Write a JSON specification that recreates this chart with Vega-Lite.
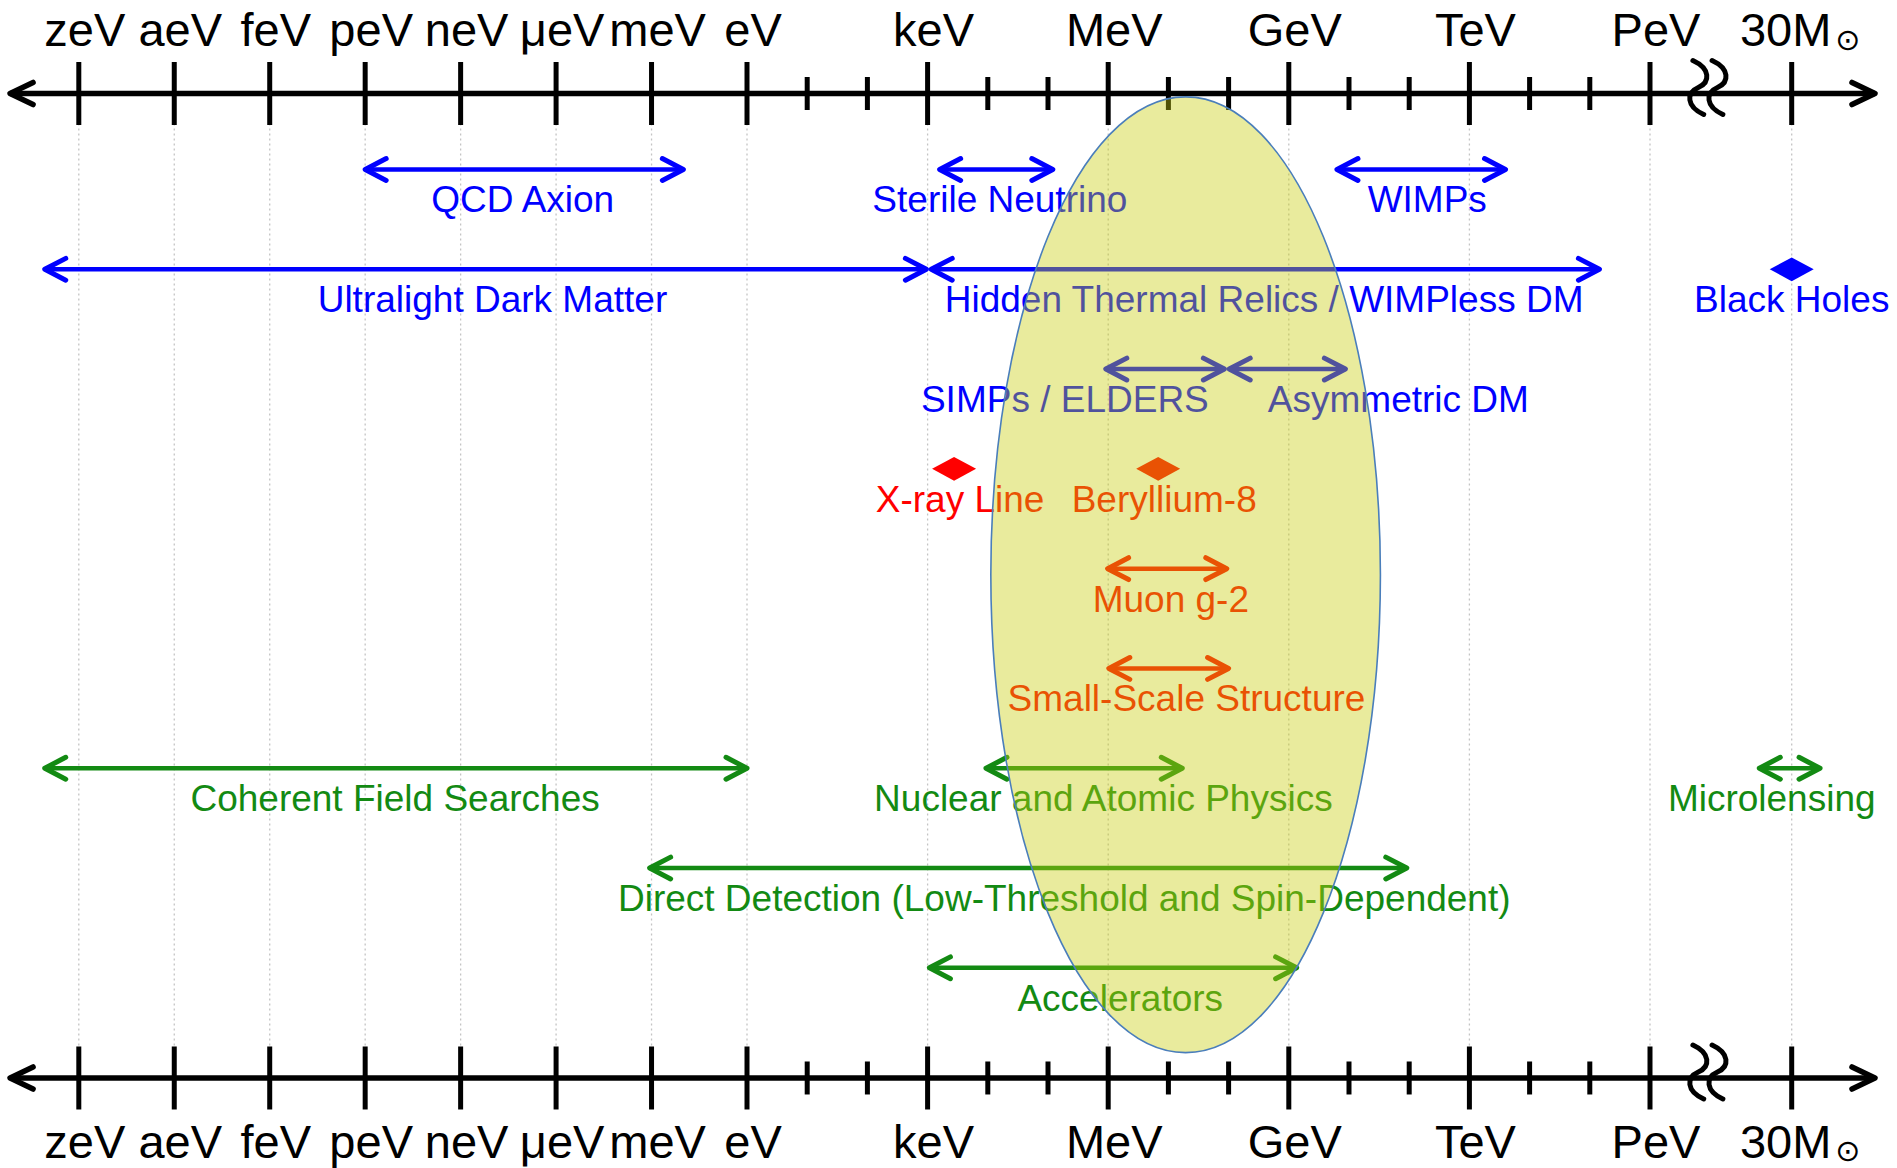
{
  "$schema": "https://vega.github.io/schema/vega-lite/v6.json",
  "width": 1897,
  "height": 1168,
  "autosize": {"type": "none"},
  "padding": 0,
  "background": "white",
  "config": {"view": {"stroke": null}},
  "datasets": {
    "ticks": [
      {"x": -21, "kind": "major", "label": "zeV"},
      {"x": -18, "kind": "major", "label": "aeV"},
      {"x": -15, "kind": "major", "label": "feV"},
      {"x": -12, "kind": "major", "label": "peV"},
      {"x": -9, "kind": "major", "label": "neV"},
      {"x": -6, "kind": "major", "label": "μeV"},
      {"x": -3, "kind": "major", "label": "meV"},
      {"x": 0, "kind": "major", "label": "eV"},
      {"x": 1, "kind": "minor", "label": ""},
      {"x": 2, "kind": "minor", "label": ""},
      {"x": 3, "kind": "major", "label": "keV"},
      {"x": 4, "kind": "minor", "label": ""},
      {"x": 5, "kind": "minor", "label": ""},
      {"x": 6, "kind": "major", "label": "MeV"},
      {"x": 7, "kind": "minor", "label": ""},
      {"x": 8, "kind": "minor", "label": ""},
      {"x": 9, "kind": "major", "label": "GeV"},
      {"x": 10, "kind": "minor", "label": ""},
      {"x": 11, "kind": "minor", "label": ""},
      {"x": 12, "kind": "major", "label": "TeV"},
      {"x": 13, "kind": "minor", "label": ""},
      {"x": 14, "kind": "minor", "label": ""},
      {"x": 15, "kind": "major", "label": "PeV"},
      {"x": 67.5, "kind": "major", "label": "30M", "sub": "⊙"}
    ],
    "axisLines": [
      {"row": 0.2385, "x": -23.16, "x2": 98.36},
      {"row": 10.104, "x": -23.16, "x2": 98.36}
    ],
    "breaks": [
      {"row": 0.2385, "x": 32.9},
      {"row": 0.2385, "x": 40.0},
      {"row": 10.104, "x": 32.9},
      {"row": 10.104, "x": 40.0}
    ],
    "items": [
      {"label": "QCD Axion", "group": "theory", "type": "range", "row": 1, "x": -12, "x2": -2, "lx": -7.05},
      {"label": "Sterile Neutrino", "group": "theory", "type": "range", "row": 1, "x": 3.2, "x2": 5.08, "lx": 4.2},
      {"label": "WIMPs", "group": "theory", "type": "range", "row": 1, "x": 9.8, "x2": 12.6, "lx": 11.3},
      {"label": "Ultralight Dark Matter", "group": "theory", "type": "range", "row": 2, "x": -22.07, "x2": 2.98, "lx": -8},
      {"label": "Hidden Thermal Relics / WIMPless DM", "group": "theory", "type": "range", "row": 2, "x": 3.06, "x2": 14.16, "lx": 8.59},
      {"label": "Black Holes", "group": "theory", "type": "point", "row": 2, "x": 67.5, "lx": 67.5},
      {"label": "SIMPs / ELDERS", "group": "theory", "type": "range", "row": 3, "x": 5.96, "x2": 7.93, "lx": 5.28},
      {"label": "Asymmetric DM", "group": "theory", "type": "range", "row": 3, "x": 8.01, "x2": 9.94, "lx": 10.82},
      {"label": "X-ray Line", "group": "hint", "type": "point", "row": 4, "x": 3.44, "lx": 3.54},
      {"label": "Beryllium-8", "group": "hint", "type": "point", "row": 4, "x": 6.83, "lx": 6.93},
      {"label": "Muon g-2", "group": "hint", "type": "range", "row": 5, "x": 5.99, "x2": 7.97, "lx": 7.04},
      {"label": "Small-Scale Structure", "group": "hint", "type": "range", "row": 6, "x": 6.01, "x2": 8.0, "lx": 7.3},
      {"label": "Coherent Field Searches", "group": "probe", "type": "range", "row": 7, "x": -22.07, "x2": 0, "lx": -11.06},
      {"label": "Nuclear and Atomic Physics", "group": "probe", "type": "range", "row": 7, "x": 3.97, "x2": 7.23, "lx": 5.92},
      {"label": "Microlensing", "group": "probe", "type": "range", "row": 7, "x": 55.5, "x2": 78, "lx": 60.1},
      {"label": "Direct Detection (Low-Threshold and Spin-Dependent)", "group": "probe", "type": "range", "row": 8, "x": -3.06, "x2": 10.96, "lx": 5.27},
      {"label": "Accelerators", "group": "probe", "type": "range", "row": 9, "x": 3.03, "x2": 9.13, "lx": 6.2}
    ],
    "ellipse": [{"x": 7.286, "row": 5.061}]
  },
  "layer": [
    {
      "data": {"name": "ticks"},
      "transform": [{"filter": "datum.kind == 'major'"}],
      "mark": {"type": "rule", "color": "#c4c4c4", "strokeWidth": 1.3, "strokeDash": [2, 3]},
      "encoding": {
        "x": {"field": "x", "type": "quantitative", "scale": {"domain": [-21, 0, 15, 67.5], "range": [78.8, 747, 1650, 1791.7]}, "axis": null},
        "y": {"datum": 0.2385, "type": "quantitative", "scale": {"domain": [-0.6985, 11.006], "range": [0, 1168]}, "axis": null},
        "y2": {"datum": 10.104}
      }
    },
    {
      "data": {"name": "axisLines"},
      "mark": {"type": "rule", "color": "black", "strokeWidth": 5.5},
      "encoding": {
        "x": {"field": "x", "type": "quantitative", "scale": {"domain": [-21, 0, 15, 67.5], "range": [78.8, 747, 1650, 1791.7]}, "axis": null},
        "x2": {"field": "x2"},
        "y": {"field": "row", "type": "quantitative", "scale": {"domain": [-0.6985, 11.006], "range": [0, 1168]}, "axis": null}
      }
    },
    {
      "data": {"name": "axisLines"},
      "mark": {"type": "point", "shape": "M 1 -0.48 L 0 0 L 1 0.48", "size": 2116, "filled": false, "color": "black", "strokeWidth": 5.5, "strokeCap": "round", "strokeJoin": "round", "opacity": 1},
      "encoding": {
        "x": {"field": "x", "type": "quantitative", "scale": {"domain": [-21, 0, 15, 67.5], "range": [78.8, 747, 1650, 1791.7]}, "axis": null},
        "y": {"field": "row", "type": "quantitative", "scale": {"domain": [-0.6985, 11.006], "range": [0, 1168]}, "axis": null}
      }
    },
    {
      "data": {"name": "axisLines"},
      "mark": {"type": "point", "shape": "M -1 -0.48 L 0 0 L -1 0.48", "size": 2116, "filled": false, "color": "black", "strokeWidth": 5.5, "strokeCap": "round", "strokeJoin": "round", "opacity": 1},
      "encoding": {
        "x": {"field": "x2", "type": "quantitative", "scale": {"domain": [-21, 0, 15, 67.5], "range": [78.8, 747, 1650, 1791.7]}, "axis": null},
        "y": {"field": "row", "type": "quantitative", "scale": {"domain": [-0.6985, 11.006], "range": [0, 1168]}, "axis": null}
      }
    },
    {
      "data": {"name": "ticks"},
      "mark": {"type": "tick", "orient": "vertical", "thickness": 5, "color": "black", "opacity": 1},
      "encoding": {
        "x": {"field": "x", "type": "quantitative", "scale": {"domain": [-21, 0, 15, 67.5], "range": [78.8, 747, 1650, 1791.7]}, "axis": null},
        "y": {"datum": 0.2385, "type": "quantitative", "scale": {"domain": [-0.6985, 11.006], "range": [0, 1168]}, "axis": null},
        "size": {"field": "kind", "type": "nominal", "scale": {"domain": ["major", "minor"], "range": [63, 33]}, "legend": null}
      }
    },
    {
      "data": {"name": "ticks"},
      "mark": {"type": "tick", "orient": "vertical", "thickness": 5, "color": "black", "opacity": 1},
      "encoding": {
        "x": {"field": "x", "type": "quantitative", "scale": {"domain": [-21, 0, 15, 67.5], "range": [78.8, 747, 1650, 1791.7]}, "axis": null},
        "y": {"datum": 10.104, "type": "quantitative", "scale": {"domain": [-0.6985, 11.006], "range": [0, 1168]}, "axis": null},
        "size": {"field": "kind", "type": "nominal", "scale": {"domain": ["major", "minor"], "range": [63, 33]}, "legend": null}
      }
    },
    {
      "data": {"name": "breaks"},
      "mark": {"type": "point", "shape": "M -0.2 -1 C 0.45 -0.7 0.45 -0.2 0 0 C -0.45 0.2 -0.45 0.7 0.2 1", "size": 2916, "filled": false, "color": "black", "strokeWidth": 5, "strokeCap": "round", "opacity": 1, "yOffset": -6},
      "encoding": {
        "x": {"field": "x", "type": "quantitative", "scale": {"domain": [-21, 0, 15, 67.5], "range": [78.8, 747, 1650, 1791.7]}, "axis": null},
        "y": {"field": "row", "type": "quantitative", "scale": {"domain": [-0.6985, 11.006], "range": [0, 1168]}, "axis": null}
      }
    },
    {
      "data": {"name": "ticks"},
      "transform": [{"filter": "datum.kind == 'major' && datum.label != '30M'"}],
      "mark": {"type": "text", "font": "Liberation Sans, Arial, sans-serif", "fontSize": 47, "color": "black", "align": "center", "baseline": "alphabetic", "dx": 6, "dy": -47.5},
      "encoding": {
        "x": {"field": "x", "type": "quantitative", "scale": {"domain": [-21, 0, 15, 67.5], "range": [78.8, 747, 1650, 1791.7]}, "axis": null},
        "y": {"datum": 0.2385, "type": "quantitative", "scale": {"domain": [-0.6985, 11.006], "range": [0, 1168]}, "axis": null},
        "text": {"field": "label"}
      }
    },
    {
      "data": {"name": "ticks"},
      "transform": [{"filter": "datum.kind == 'major' && datum.label != '30M'"}],
      "mark": {"type": "text", "font": "Liberation Sans, Arial, sans-serif", "fontSize": 47, "color": "black", "align": "center", "baseline": "alphabetic", "dx": 6, "dy": 80},
      "encoding": {
        "x": {"field": "x", "type": "quantitative", "scale": {"domain": [-21, 0, 15, 67.5], "range": [78.8, 747, 1650, 1791.7]}, "axis": null},
        "y": {"datum": 10.104, "type": "quantitative", "scale": {"domain": [-0.6985, 11.006], "range": [0, 1168]}, "axis": null},
        "text": {"field": "label"}
      }
    },
    {
      "data": {"name": "ticks"},
      "transform": [{"filter": "datum.label == '30M'"}],
      "mark": {"type": "text", "font": "Liberation Sans, Arial, sans-serif", "fontSize": 47, "color": "black", "align": "center", "baseline": "alphabetic", "dx": -6, "dy": -47.5},
      "encoding": {
        "x": {"field": "x", "type": "quantitative", "scale": {"domain": [-21, 0, 15, 67.5], "range": [78.8, 747, 1650, 1791.7]}, "axis": null},
        "y": {"datum": 0.2385, "type": "quantitative", "scale": {"domain": [-0.6985, 11.006], "range": [0, 1168]}, "axis": null},
        "text": {"field": "label"}
      }
    },
    {
      "data": {"name": "ticks"},
      "transform": [{"filter": "datum.label == '30M'"}],
      "mark": {"type": "text", "font": "Liberation Sans, Arial, sans-serif", "fontSize": 47, "color": "black", "align": "center", "baseline": "alphabetic", "dx": -6, "dy": 80},
      "encoding": {
        "x": {"field": "x", "type": "quantitative", "scale": {"domain": [-21, 0, 15, 67.5], "range": [78.8, 747, 1650, 1791.7]}, "axis": null},
        "y": {"datum": 10.104, "type": "quantitative", "scale": {"domain": [-0.6985, 11.006], "range": [0, 1168]}, "axis": null},
        "text": {"field": "label"}
      }
    },
    {
      "data": {"name": "ticks"},
      "transform": [{"filter": "datum.label == '30M'"}],
      "mark": {"type": "text", "font": "DejaVu Sans", "fontSize": 30, "color": "black", "align": "center", "baseline": "middle", "dx": 56, "dy": -53},
      "encoding": {
        "x": {"field": "x", "type": "quantitative", "scale": {"domain": [-21, 0, 15, 67.5], "range": [78.8, 747, 1650, 1791.7]}, "axis": null},
        "y": {"datum": 0.2385, "type": "quantitative", "scale": {"domain": [-0.6985, 11.006], "range": [0, 1168]}, "axis": null},
        "text": {"field": "sub"}
      }
    },
    {
      "data": {"name": "ticks"},
      "transform": [{"filter": "datum.label == '30M'"}],
      "mark": {"type": "text", "font": "DejaVu Sans", "fontSize": 30, "color": "black", "align": "center", "baseline": "middle", "dx": 56, "dy": 74},
      "encoding": {
        "x": {"field": "x", "type": "quantitative", "scale": {"domain": [-21, 0, 15, 67.5], "range": [78.8, 747, 1650, 1791.7]}, "axis": null},
        "y": {"datum": 10.104, "type": "quantitative", "scale": {"domain": [-0.6985, 11.006], "range": [0, 1168]}, "axis": null},
        "text": {"field": "sub"}
      }
    },
    {
      "data": {"name": "items"},
      "transform": [{"filter": "datum.type == 'range'"}],
      "mark": {"type": "rule", "strokeWidth": 4.5},
      "encoding": {
        "x": {"field": "x", "type": "quantitative", "scale": {"domain": [-21, 0, 15, 67.5], "range": [78.8, 747, 1650, 1791.7]}, "axis": null},
        "x2": {"field": "x2"},
        "y": {"field": "row", "type": "quantitative", "scale": {"domain": [-0.6985, 11.006], "range": [0, 1168]}, "axis": null},
        "color": {"field": "group", "type": "nominal", "scale": {"domain": ["theory", "hint", "probe"], "range": ["#0000ff", "#ff0000", "#138a13"]}, "legend": null}
      }
    },
    {
      "data": {"name": "items"},
      "transform": [{"filter": "datum.type == 'range'"}],
      "mark": {"type": "point", "shape": "M 1 -0.52 L 0 0 L 1 0.52", "size": 1764, "filled": false, "strokeWidth": 5, "strokeCap": "round", "strokeJoin": "round", "opacity": 1},
      "encoding": {
        "x": {"field": "x", "type": "quantitative", "scale": {"domain": [-21, 0, 15, 67.5], "range": [78.8, 747, 1650, 1791.7]}, "axis": null},
        "y": {"field": "row", "type": "quantitative", "scale": {"domain": [-0.6985, 11.006], "range": [0, 1168]}, "axis": null},
        "color": {"field": "group", "type": "nominal", "scale": {"domain": ["theory", "hint", "probe"], "range": ["#0000ff", "#ff0000", "#138a13"]}, "legend": null}
      }
    },
    {
      "data": {"name": "items"},
      "transform": [{"filter": "datum.type == 'range'"}],
      "mark": {"type": "point", "shape": "M -1 -0.52 L 0 0 L -1 0.52", "size": 1764, "filled": false, "strokeWidth": 5, "strokeCap": "round", "strokeJoin": "round", "opacity": 1},
      "encoding": {
        "x": {"field": "x2", "type": "quantitative", "scale": {"domain": [-21, 0, 15, 67.5], "range": [78.8, 747, 1650, 1791.7]}, "axis": null},
        "y": {"field": "row", "type": "quantitative", "scale": {"domain": [-0.6985, 11.006], "range": [0, 1168]}, "axis": null},
        "color": {"field": "group", "type": "nominal", "scale": {"domain": ["theory", "hint", "probe"], "range": ["#0000ff", "#ff0000", "#138a13"]}, "legend": null}
      }
    },
    {
      "data": {"name": "items"},
      "transform": [{"filter": "datum.type == 'point'"}],
      "mark": {"type": "point", "shape": "M -1 0 L 0 -0.54 L 1 0 L 0 0.54 Z", "size": 1936, "filled": true, "opacity": 1},
      "encoding": {
        "x": {"field": "x", "type": "quantitative", "scale": {"domain": [-21, 0, 15, 67.5], "range": [78.8, 747, 1650, 1791.7]}, "axis": null},
        "y": {"field": "row", "type": "quantitative", "scale": {"domain": [-0.6985, 11.006], "range": [0, 1168]}, "axis": null},
        "color": {"field": "group", "type": "nominal", "scale": {"domain": ["theory", "hint", "probe"], "range": ["#0000ff", "#ff0000", "#138a13"]}, "legend": null}
      }
    },
    {
      "data": {"name": "items"},
      "mark": {"type": "text", "font": "Liberation Sans, Arial, sans-serif", "fontSize": 37, "align": "center", "baseline": "alphabetic", "dy": 43},
      "encoding": {
        "x": {"field": "lx", "type": "quantitative", "scale": {"domain": [-21, 0, 15, 67.5], "range": [78.8, 747, 1650, 1791.7]}, "axis": null},
        "y": {"field": "row", "type": "quantitative", "scale": {"domain": [-0.6985, 11.006], "range": [0, 1168]}, "axis": null},
        "text": {"field": "label"},
        "color": {"field": "group", "type": "nominal", "scale": {"domain": ["theory", "hint", "probe"], "range": ["#0000ff", "#ff0000", "#138a13"]}, "legend": null}
      }
    },
    {
      "data": {"name": "ellipse"},
      "mark": {"type": "point", "shape": "M 0 -1 C 0.2251 -1 0.4076 -0.5523 0.4076 0 C 0.4076 0.5523 0.2251 1 0 1 C -0.2251 1 -0.4076 0.5523 -0.4076 0 C -0.4076 -0.5523 -0.2251 -1 0 -1 Z", "size": 913554, "filled": true, "fill": "#c8cd0a", "fillOpacity": 0.4, "stroke": "#4a7ebb", "strokeWidth": 1.6, "strokeOpacity": 1, "opacity": 1},
      "encoding": {
        "x": {"field": "x", "type": "quantitative", "scale": {"domain": [-21, 0, 15, 67.5], "range": [78.8, 747, 1650, 1791.7]}, "axis": null},
        "y": {"field": "row", "type": "quantitative", "scale": {"domain": [-0.6985, 11.006], "range": [0, 1168]}, "axis": null}
      }
    }
  ]
}
